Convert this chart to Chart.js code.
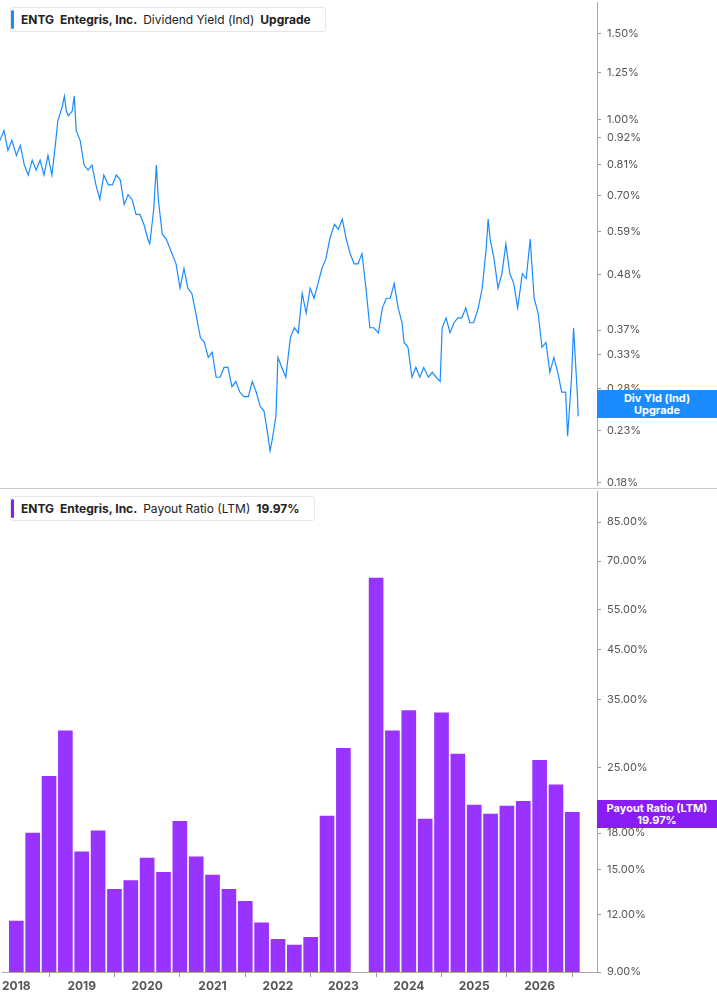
<!DOCTYPE html>
<html>
<head>
<meta charset="utf-8">
<script src="https://cdn.jsdelivr.net/npm/chart.js@4"></script>
<style>
  body { margin: 0; width: 717px; height: 1005px; background: #fff; font-family: Inter, "Noto Sans", sans-serif; overflow: hidden; position: relative; }
  .pane { position: absolute; left: 0; width: 717px; }
  #top { top: 0; height: 488px; border-bottom: 1px solid #ccc; overflow: hidden; }
  #bottom { top: 489px; height: 516px; overflow: hidden; }
  canvas { position: absolute; left: 0; top: -10px; }
  .legend { position: absolute; left: 10px; top: 7px; background: #fff; border: 1px solid #e6e6e6; border-radius: 3px;
            padding: 4px 8px 4px 10px; font-size: 12px; color: #222; white-space: nowrap; }
  .legend::before { content: ""; position: absolute; left: 0; top: 2px; bottom: 2px; width: 3px; border-radius: 2px; }
  #top .legend::before { background: #1a8cff; }
  #bottom .legend::before { background: #8a1cf5; }
  .legend b { font-weight: 700; margin-right: 6px; }
  .legend span { margin-right: 6px; }
  .tag { position: absolute; left: 597px; width: 120px; color: #fff; font-size: 11px; font-weight: 700; text-align: center; line-height: 12px; padding: 2px 0; }
</style>
</head>
<body>
<div class="pane" id="top">
  <canvas id="yieldChart" width="717" height="508"></canvas>
  <div class="legend"><b>ENTG</b><b>Entegris, Inc.</b><span>Dividend Yield (Ind)</span><b>Upgrade</b></div>
  <div class="tag" style="top:390px;background:#1a8cff;">Div Yld (Ind)<br>Upgrade</div>
</div>
<div class="pane" id="bottom">
  <canvas id="payoutChart" width="717" height="526"></canvas>
  <div class="legend"><b>ENTG</b><b>Entegris, Inc.</b><span>Payout Ratio (LTM)</span><b>19.97%</b></div>
  <div class="tag" style="top:311px;background:#8a1cf5;">Payout Ratio (LTM)<br>19.97%</div>
</div>
<script>
// Dividend yield (%), sampled by date (decimal year)
const divYldDates = [2017.79,2017.85,2017.91,2017.97,2018.04,2018.10,2018.16,2018.22,2018.28,2018.34,2018.40,2018.46,2018.52,2018.58,2018.64,2018.67,2018.74,2018.77,2018.80,2018.83,2018.89,2018.92,2018.95,2019.01,2019.07,2019.13,2019.19,2019.25,2019.31,2019.37,2019.44,2019.50,2019.56,2019.62,2019.68,2019.74,2019.80,2019.86,2019.92,2019.98,2020.04,2020.07,2020.13,2020.17,2020.20,2020.26,2020.32,2020.38,2020.44,2020.47,2020.53,2020.59,2020.65,2020.71,2020.77,2020.84,2020.90,2020.96,2021.02,2021.08,2021.14,2021.20,2021.26,2021.32,2021.38,2021.44,2021.50,2021.57,2021.63,2021.69,2021.75,2021.81,2021.87,2021.90,2021.93,2021.99,2022.02,2022.08,2022.14,2022.21,2022.27,2022.33,2022.39,2022.45,2022.51,2022.57,2022.63,2022.69,2022.75,2022.81,2022.88,2022.94,2023.00,2023.06,2023.12,2023.18,2023.24,2023.30,2023.36,2023.42,2023.48,2023.55,2023.61,2023.67,2023.73,2023.79,2023.85,2023.91,2023.94,2024.00,2024.06,2024.12,2024.18,2024.24,2024.31,2024.37,2024.43,2024.49,2024.52,2024.58,2024.64,2024.70,2024.76,2024.82,2024.88,2024.94,2025.00,2025.07,2025.13,2025.19,2025.22,2025.25,2025.31,2025.37,2025.43,2025.49,2025.55,2025.61,2025.67,2025.74,2025.80,2025.86,2025.92,2025.98,2026.04,2026.10,2026.16,2026.22,2026.28,2026.34,2026.40,2026.43,2026.49,2026.52,2026.58,2026.59];
const divYldValues = [0.907,0.950,0.865,0.907,0.845,0.886,0.807,0.770,0.826,0.788,0.826,0.770,0.845,0.770,0.907,0.995,1.067,1.118,1.043,1.019,1.043,1.118,0.950,0.907,0.807,0.788,0.807,0.735,0.686,0.770,0.735,0.735,0.770,0.753,0.670,0.702,0.686,0.639,0.639,0.610,0.569,0.556,0.655,0.807,0.686,0.582,0.569,0.543,0.518,0.506,0.451,0.495,0.451,0.440,0.401,0.357,0.349,0.325,0.333,0.296,0.296,0.310,0.310,0.283,0.290,0.276,0.270,0.270,0.290,0.276,0.258,0.252,0.224,0.209,0.219,0.246,0.325,0.310,0.296,0.357,0.374,0.365,0.440,0.401,0.451,0.430,0.461,0.495,0.518,0.569,0.610,0.596,0.625,0.569,0.531,0.506,0.506,0.531,0.451,0.374,0.374,0.365,0.411,0.430,0.430,0.461,0.411,0.383,0.349,0.341,0.296,0.310,0.296,0.310,0.296,0.303,0.296,0.290,0.374,0.392,0.365,0.383,0.392,0.392,0.411,0.383,0.383,0.411,0.451,0.543,0.625,0.569,0.518,0.451,0.483,0.556,0.483,0.461,0.411,0.483,0.472,0.569,0.430,0.401,0.341,0.349,0.303,0.325,0.303,0.276,0.276,0.224,0.296,0.374,0.270,0.246];
const yieldTicks = [1.50,1.25,1.00,0.92,0.81,0.70,0.59,0.48,0.37,0.33,0.28,0.23,0.18];

// Payout ratio (%), quarterly; 2023 Q2 missing
const payoutDates = [2018.0,2018.25,2018.5,2018.75,2019.0,2019.25,2019.5,2019.75,2020.0,2020.25,2020.5,2020.75,2021.0,2021.25,2021.5,2021.75,2022.0,2022.25,2022.5,2022.75,2023.0,2023.25,2023.5,2023.75,2024.0,2024.25,2024.5,2024.75,2025.0,2025.25,2025.5,2025.75,2026.0,2026.25,2026.5];
const payoutValues = [11.6,18.0,23.9,30.0,16.4,18.2,13.6,14.2,15.9,14.8,19.1,16.0,14.6,13.6,12.8,11.5,10.6,10.3,10.7,19.6,27.5,null,64.3,30.0,33.2,19.3,32.8,26.7,20.7,19.8,20.6,21.1,25.9,22.9,19.97];
const payoutTicks = [85,70,55,45,35,25,18,15,12,9];
const yearTicks = [2018,2019,2020,2021,2022,2023,2024,2025,2026];

const xMin = 2017.79, xMax = 2026.877;
const tickFont = { family: 'Inter, "Noto Sans", sans-serif', size: 11 };

function rightAxis(min, max, ticks) {
  return {
    type: 'logarithmic', position: 'right', min: min, max: max,
    afterBuildTicks: s => { s.ticks = ticks.map(v => ({ value: v })); },
    afterFit: s => { s.width = 120; },
    ticks: { color: '#555', font: tickFont, padding: 6, callback: v => Number(v).toFixed(2) + '%' },
    grid: { drawOnChartArea: false, tickLength: 4, color: '#999' },
    border: { color: '#aaa', width: 1 }
  };
}

new Chart(document.getElementById('yieldChart'), {
  type: 'line',
  data: { datasets: [{ data: divYldDates.map((d, i) => ({ x: d, y: divYldValues[i] })),
    borderColor: '#1a8cff', borderWidth: 1.2, pointRadius: 0, tension: 0 }] },
  options: {
    responsive: false, animation: false, layout: { padding: 0 },
    plugins: { legend: { display: false }, tooltip: { enabled: false } },
    scales: {
      x: { type: 'linear', min: xMin, max: xMax, display: false },
      y: rightAxis(0.1775, 1.74, yieldTicks)
    }
  }
});

new Chart(document.getElementById('payoutChart'), {
  type: 'bar',
  data: { datasets: [{ data: payoutDates.map((d, i) => ({ x: d, y: payoutValues[i] })),
    backgroundColor: '#9933ff', barThickness: 14 }] },
  options: {
    responsive: false, animation: false, layout: { padding: 0 },
    plugins: { legend: { display: false }, tooltip: { enabled: false } },
    scales: {
      x: { type: 'linear', min: xMin, max: xMax, offset: false,
           afterBuildTicks: s => { s.ticks = yearTicks.map(v => ({ value: v })); },
           afterFit: s => { s.height = 33; },
           ticks: { color: '#555', font: { ...tickFont, size: 12, weight: 'bold' }, padding: 2, callback: v => String(v) },
           grid: { drawOnChartArea: false, tickLength: 5, color: '#999' },
           border: { color: '#aaa' } },
      y: rightAxis(9, 99, payoutTicks)
    }
  }
});
</script>
</body>
</html>
